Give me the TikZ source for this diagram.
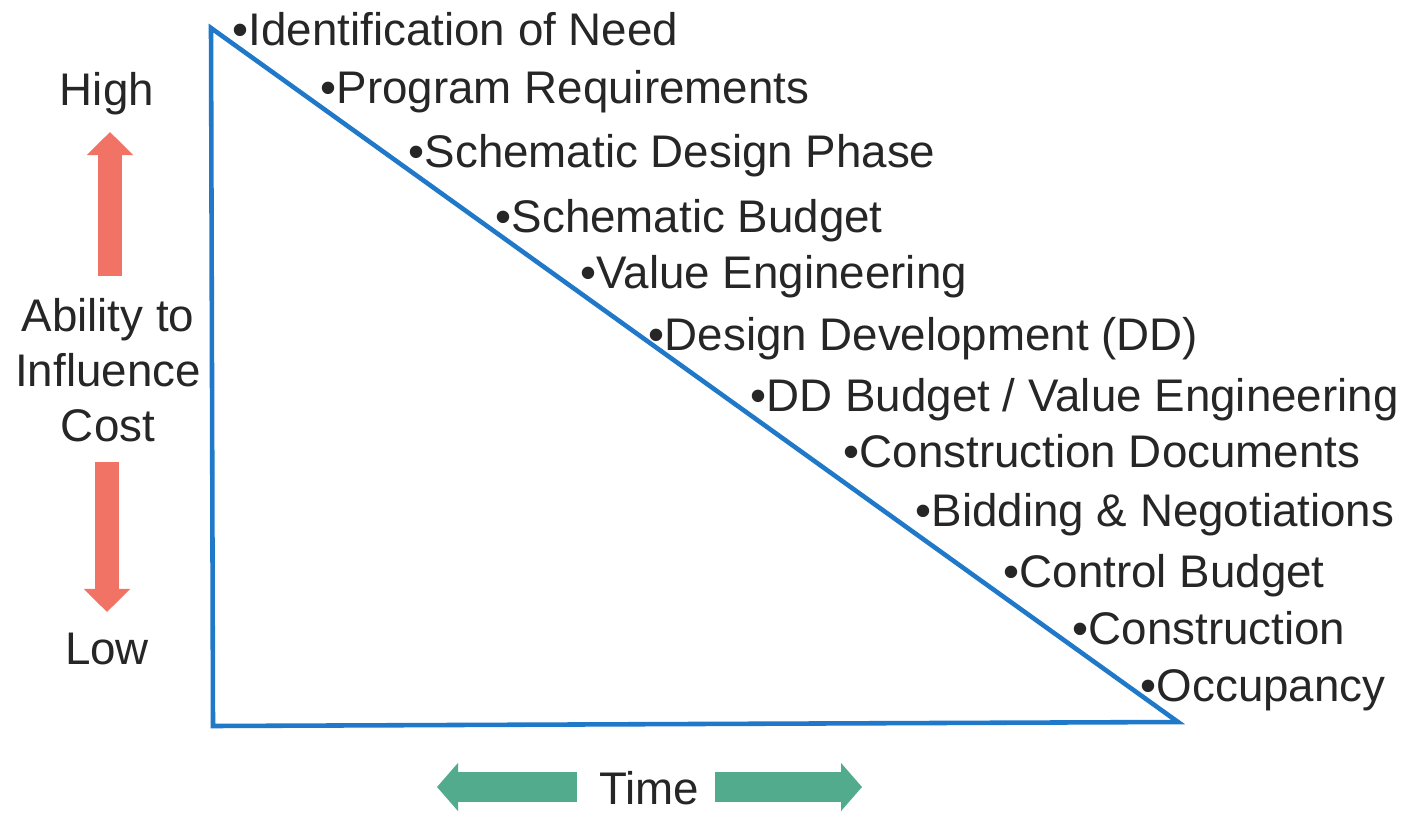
\documentclass[tikz,border=0pt]{standalone}
\usepackage{fontspec}
\setmainfont{Liberation Sans}
\usetikzlibrary{arrows.meta}
\usetikzlibrary{positioning}
\definecolor{lineblue}{HTML}{1F78C8}
\definecolor{arrowred}{HTML}{F07366}
\definecolor{arrowgreen}{HTML}{52AB8C}
\definecolor{textgray}{HTML}{262626}

\begin{document}
\begin{tikzpicture}[x=0.01cm,y=-0.01cm,every node/.style={inner sep=0pt,text=textgray,font=\fontsize{13}{15.6}\selectfont},phase/.style={anchor=base west},
  redarrow/.style={arrowred,line width=0.235cm,-{Triangle[width=0.45cm,length=0.23cm]}},
  greenarrow/.style={arrowgreen,line width=0.29cm,-{Triangle[width=0.47cm,length=0.21cm]}}]
  \useasboundingbox (0,0) rectangle (1404,816);
  \coordinate (top) at (211,28);
  \coordinate (corner) at (213,726);
  \coordinate (end) at (1178,722);
  \draw[lineblue,line width=1.3pt](top)--(corner)--(end)--cycle;
  \node[phase] (need) at (232,46){•Identification of Need};
  \node[phase] (program) at (320,104){•Program Requirements};
  \node[phase] (schematic) at (408,168){•Schematic Design Phase};
  \node[phase] (sbudget) at (495,233){•Schematic Budget};
  \node[phase] (value) at (580,289){•Value Engineering};
  \node[phase] (dd) at (648,351){•Design Development (DD)};
  \node[phase] (ddbudget) at (750,412){•DD Budget / Value Engineering};
  \node[phase] (cdocs) at (843,468){•Construction Documents};
  \node[phase] (bidding) at (915,526){•Bidding \& Negotiations};
  \node[phase] (control) at (1003,587){•Control Budget};
  \node[phase] (construction) at (1072,644){•Construction};
  \node[phase] (occupancy) at (1140,701){•Occupancy};
  \node[align=center] (cost) at (108,370){Ability to\\Influence\\Cost};
  \node[anchor=base] (high) at (107,106){High};
  \node[anchor=base] (low) at (107,664){Low};
  \node[anchor=base] (time) at (649,804){Time};
  \coordinate (upfoot) at (110,276);
  \coordinate (uptip) at (110,132);
  \coordinate (downfoot) at (107,462);
  \coordinate (downtip) at (107,612);
  \coordinate (leftfoot) at (577,787);
  \coordinate (lefttip) at (437,787);
  \coordinate (rightfoot) at (715,787);
  \coordinate (righttip) at (862,787);
  \draw[redarrow](upfoot)--(uptip);
  \draw[redarrow](downfoot)--(downtip);
  \draw[greenarrow](leftfoot)--(lefttip);
  \draw[greenarrow](rightfoot)--(righttip);
\end{tikzpicture}
\end{document}
